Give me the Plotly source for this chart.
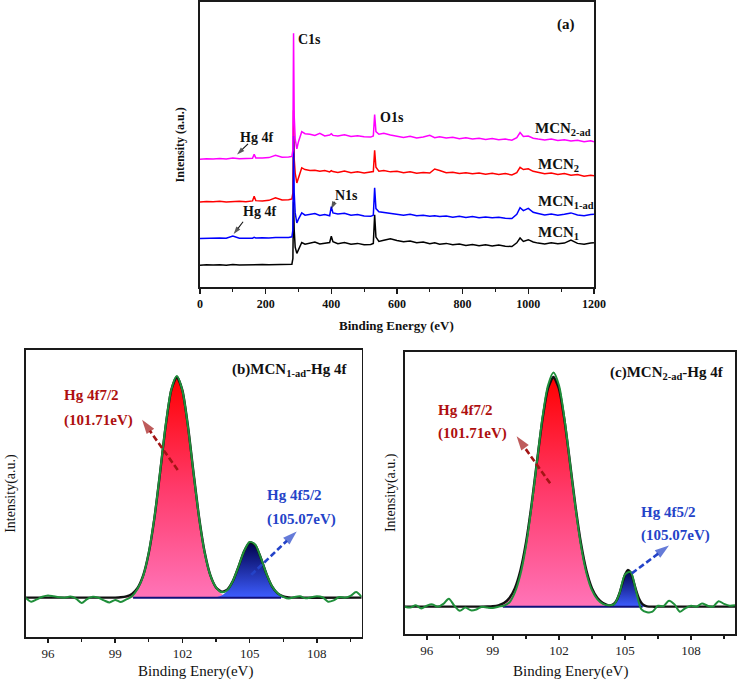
import plotly.graph_objects as go

W, H = 750, 681
SERIF = "Liberation Serif"

# ---------------- (a) XPS survey spectra ----------------
survey_x = [
    0, 20, 40, 60, 80, 100, 120, 140, 160, 165,
    170, 190, 210, 230, 250, 270, 280, 283, 285, 287,
    290, 295, 300, 310, 320, 335, 350, 365, 380, 395,
    400, 405, 420, 440, 460, 480, 500, 520, 528, 532,
    536, 545, 560, 580, 600, 620, 640, 660, 680, 700,
    715, 730, 750, 770, 790, 810, 830, 850, 870, 890,
    910, 930, 950, 965, 975, 985, 1000, 1015, 1030, 1050,
    1070, 1090, 1110, 1130, 1150, 1170, 1190, 1200]

mcn2ad = [
    44.8, 45.0, 44.9, 45.1, 44.9, 45.3, 45.0, 45.1, 45.2, 46.6,
    45.3, 45.3, 45.4, 46.2, 45.5, 45.6, 45.8, 48.0, 89.0, 60.0,
    52.0, 48.5, 51.0, 54.5, 53.8, 53.6, 53.2, 53.9, 53.0, 53.3,
    53.8, 53.2, 53.0, 53.4, 52.8, 53.1, 52.7, 52.6, 53.0, 60.5,
    54.5, 53.6, 53.9, 53.3, 53.0, 52.5, 52.9, 52.3, 52.6, 53.2,
    52.4, 52.7, 52.3, 52.5, 52.0, 52.4, 51.9, 52.2, 51.8, 52.1,
    51.7, 51.9, 51.5, 52.4, 54.2, 52.8, 53.0, 52.2, 51.9, 51.6,
    51.9, 51.4, 51.7, 51.2, 51.5, 51.0, 51.3, 51.0]

mcn2 = [
    29.8, 30.0, 29.9, 30.1, 29.8, 30.0, 30.1, 29.9, 30.2, 31.8,
    30.3, 30.2, 30.4, 31.3, 30.5, 30.6, 30.9, 33.0, 62.0, 45.0,
    40.0, 36.5, 38.5, 41.8, 41.2, 40.9, 41.0, 40.6, 40.9, 40.4,
    40.8, 40.5, 40.2, 40.7, 40.1, 40.4, 40.0, 40.2, 40.5, 48.0,
    42.0, 40.6, 40.9, 40.4, 40.6, 40.1, 40.4, 39.9, 40.2, 40.0,
    41.4, 40.9, 40.1, 40.3, 39.8, 40.1, 39.7, 40.0, 39.6, 39.9,
    39.5, 39.8, 39.3, 40.1, 42.0, 41.2, 41.5, 40.6, 40.3, 39.7,
    40.0, 39.5, 39.8, 39.2, 39.5, 38.9, 39.2, 39.0]

mcn1ad = [
    17.0, 17.1, 17.0, 17.2, 17.1, 17.9, 17.1, 17.2, 17.1, 17.4,
    17.2, 17.3, 17.2, 17.4, 17.3, 17.4, 17.6, 20.0, 53.0, 33.0,
    26.0, 22.5, 23.8, 26.0, 25.2, 25.5, 25.8, 25.1, 25.4, 25.0,
    28.2, 26.0, 25.6, 25.9, 25.2, 25.4, 24.9, 24.8, 25.2, 34.8,
    27.5, 26.4, 26.2, 25.9, 25.6, 25.2, 25.5, 25.0, 25.2, 24.8,
    25.0, 24.7, 24.9, 24.5, 24.8, 24.4, 24.7, 24.3, 24.6, 24.3,
    24.5, 24.1, 24.0, 25.5, 27.8, 26.8, 27.6, 26.2, 25.8, 25.3,
    25.6, 25.2, 25.5, 26.0, 25.3, 25.0, 25.4, 25.5]

mcn1 = [
    7.6, 7.8, 7.7, 7.8, 7.6, 7.9, 7.7, 7.8, 7.9, 7.8,
    7.7, 7.9, 7.8, 7.9, 7.8, 7.9, 8.0, 10.0, 30.0, 20.0,
    14.0, 11.8, 13.0, 15.6, 15.0, 15.4, 15.8, 15.1, 15.3, 15.6,
    17.8, 15.9, 15.2, 15.6, 15.0, 15.3, 14.8, 14.9, 15.3, 25.3,
    17.5, 16.0, 16.4, 16.9, 16.3, 15.9, 16.1, 15.5, 15.8, 15.2,
    15.5, 15.0, 15.3, 14.8, 15.1, 14.6, 14.9, 14.5, 14.8, 14.4,
    14.7, 14.3, 14.2, 15.5, 17.2, 16.0, 16.6, 15.8, 15.4, 15.1,
    15.5, 15.2, 15.4, 16.5, 15.3, 15.0, 15.4, 15.5]

survey_names = ["MCN1", "MCN2", "MCN1-ad", "MCN2-ad"]
survey_colors = ["#000000", "#ff0000", "#0000ff", "#ff00ff"]

# ---------------- (b)/(c) Hg 4f high-resolution ----------------
green_x = [
    95.0, 95.25, 95.5, 95.75, 96.0, 96.25, 96.5, 96.75, 97.0, 97.25,
    97.5, 97.75, 98.0, 98.25, 98.5, 98.75, 99.0, 99.25, 99.5, 99.75,
    100.0, 100.25, 100.5, 100.75, 101.0, 101.25, 101.5, 101.75, 102.0, 102.25,
    102.5, 102.75, 103.0, 103.25, 103.5, 103.75, 104.0, 104.25, 104.5, 104.75,
    105.0, 105.25, 105.5, 105.75, 106.0, 106.25, 106.5, 106.75, 107.0, 107.25,
    107.5, 107.75, 108.0, 108.25, 108.5, 108.75, 109.0, 109.25, 109.5, 109.75,
    110.0]

raw_b = [
    0.000, -0.018, -0.008, 0.004, 0.010, 0.006, 0.002, 0.000, 0.005, -0.004,
    -0.024, -0.006, 0.004, 0.000, -0.012, -0.022, -0.010, -0.020, -0.008, 0.006,
    0.040, 0.098, 0.205, 0.362, 0.566, 0.778, 0.940, 1.003, 0.937, 0.772,
    0.560, 0.358, 0.200, 0.100, 0.047, 0.025, 0.034, 0.075, 0.140, 0.210,
    0.252, 0.240, 0.180, 0.108, 0.052, 0.020, 0.004, -0.004, 0.003, 0.006,
    -0.003, 0.002, 0.006, 0.002, -0.018, -0.012, 0.003, 0.000, 0.008, 0.026,
    0.004]

raw_c = [
    0.000, -0.004, 0.006, -0.008, 0.004, 0.010, 0.000, 0.012, 0.035, 0.004,
    -0.018, -0.004, -0.016, -0.012, 0.000, -0.004, -0.006, 0.000, 0.004, 0.018,
    0.062, 0.140, 0.262, 0.432, 0.628, 0.822, 0.962, 1.020, 0.965, 0.820,
    0.628, 0.432, 0.266, 0.146, 0.072, 0.032, 0.012, 0.006, 0.010, 0.058,
    0.140, 0.152, 0.068, -0.012, -0.024, -0.022, 0.004, 0.002, 0.026, 0.010,
    -0.022, -0.006, 0.004, 0.000, 0.014, 0.004, 0.000, 0.024, 0.012, 0.004,
    0.006]

fit_x_b = [
    99.0, 99.25, 99.5, 99.75, 100.0, 100.25, 100.5, 100.75, 101.0, 101.25,
    101.5, 101.75, 102.0, 102.25, 102.5, 102.75, 103.0, 103.25, 103.5, 103.75,
    104.0, 104.25, 104.5, 104.75, 105.0, 105.25, 105.5, 105.75, 106.0, 106.25,
    106.5, 106.75, 107.0]
hg4f72_b = [
    0.0004, 0.0017, 0.0057, 0.0169, 0.0439, 0.1007, 0.203, 0.360, 0.563, 0.775,
    0.938, 1.000, 0.938, 0.775, 0.563, 0.360, 0.203, 0.1007, 0.0439, 0.0169,
    0.0057, 0.0017, 0.0004, 0, 0, 0, 0, 0, 0, 0,
    0, 0, 0]
hg4f52_b = [
    0, 0, 0, 0, 0, 0, 0, 0, 0, 0,
    0, 0, 0, 0, 0, 0, 0, 0, 0.0026, 0.0101,
    0.0305, 0.073, 0.1387, 0.2094, 0.2507, 0.2383, 0.1797, 0.1076, 0.0511, 0.0193,
    0.0058, 0.0014, 0]

fit_x_c = [
    98.5, 98.75, 99.0, 99.25, 99.5, 99.75, 100.0, 100.25, 100.5, 100.75,
    101.0, 101.25, 101.5, 101.75, 102.0, 102.25, 102.5, 102.75, 103.0, 103.25,
    103.5, 103.75, 104.0, 104.25, 104.375, 104.5, 104.625, 104.75, 104.875, 105.0,
    105.125, 105.25, 105.375, 105.5, 105.625, 105.75, 105.875, 106.0, 106.25, 106.5]
hg4f72_c = [
    0.0002, 0.0006, 0.0020, 0.0059, 0.0156, 0.0374, 0.0808, 0.1574, 0.277, 0.440,
    0.630, 0.814, 0.950, 1.000, 0.950, 0.814, 0.630, 0.440, 0.277, 0.1574,
    0.0808, 0.0374, 0.0156, 0.0059, 0.0035, 0.0020, 0.0011, 0.0006, 0.0003, 0,
    0, 0, 0, 0, 0, 0, 0, 0, 0, 0]
hg4f52_c = [
    0, 0, 0, 0, 0, 0, 0, 0, 0, 0,
    0, 0, 0, 0, 0, 0, 0, 0, 0, 0,
    0, 0, 0, 0, 0.0035, 0.0109, 0.0276, 0.0578, 0.0988, 0.1386,
    0.1594, 0.1501, 0.1159, 0.0733, 0.0380, 0.0162, 0.0056, 0.0016, 0, 0]

baseline_b = [99.8, 106.4]
baseline_c = [99.45, 105.8]
energy_span = [95.0, 110.0]

fig = go.Figure()

# survey traces
for name, ys, col in zip(survey_names, [mcn1, mcn2, mcn1ad, mcn2ad], survey_colors):
    fig.add_trace(go.Scatter(x=survey_x, y=ys, mode="lines", name=name,
                             line=dict(color=col, width=1.5),
                             xaxis="x", yaxis="y", showlegend=False, hoverinfo="skip"))


def hg_panel(xa, ya, fit_x, red, blue, raw, base):
    fig.add_trace(go.Scatter(
        x=fit_x, y=red, mode="lines", fill="tozeroy",
        line=dict(width=0, color="rgba(0,0,0,0)", shape="spline", smoothing=0.6),
        fillgradient=dict(type="vertical", colorscale=[[0, "#ff74b8"], [0.5, "#ff3a6a"], [1, "#ff0000"]],
                          start=0, stop=max(red)),
        xaxis=xa, yaxis=ya, showlegend=False, hoverinfo="skip"))
    fig.add_trace(go.Scatter(
        x=fit_x, y=blue, mode="lines", fill="tozeroy",
        line=dict(width=0, color="rgba(0,0,0,0)", shape="spline", smoothing=0.6),
        fillgradient=dict(type="vertical", colorscale=[[0, "#3d5dff"], [1, "#00004a"]],
                          start=0, stop=max(blue)),
        xaxis=xa, yaxis=ya, showlegend=False, hoverinfo="skip"))
    fig.add_trace(go.Scatter(x=base, y=[0, 0], mode="lines",
                             line=dict(color="#10107a", width=2),
                             xaxis=xa, yaxis=ya, showlegend=False, hoverinfo="skip"))
    env = [r + b for r, b in zip(red, blue)]
    fig.add_trace(go.Scatter(x=[energy_span[0]] + fit_x + [energy_span[1]],
                             y=[0.0] + env + [0.0], mode="lines",
                             line=dict(color="#111111", width=2.4, shape="spline", smoothing=0.6),
                             xaxis=xa, yaxis=ya, showlegend=False, hoverinfo="skip"))
    fig.add_trace(go.Scatter(x=green_x, y=raw, mode="lines",
                             line=dict(color="#1f8f3a", width=2, shape="spline", smoothing=0.8),
                             xaxis=xa, yaxis=ya, showlegend=False, hoverinfo="skip"))


hg_panel("x2", "y2", fit_x_b, hg4f72_b, hg4f52_b, raw_b, baseline_b)
hg_panel("x3", "y3", fit_x_c, hg4f72_c, hg4f52_c, raw_c, baseline_c)


def arrow(xa, ya, tail, head, color, width, dash, head_size):
    fig.add_trace(go.Scatter(
        x=[tail[0], head[0]], y=[tail[1], head[1]], mode="lines+markers",
        line=dict(color=color, width=width, dash=dash),
        marker=dict(symbol=["circle", "arrow"], size=[0, head_size], color=color,
                    angleref="previous", line=dict(width=0)),
        xaxis=xa, yaxis=ya, showlegend=False, hoverinfo="skip"))


# (a) small solid arrows (tail, head in data units of panel a)
arrow("x", "y", (146.3, 50.2), (113.0, 46.5), "#111", 1.1, "solid", 8)
arrow("x", "y", (131.3, 22.9), (102.5, 18.6), "#111", 1.1, "solid", 8)
arrow("x", "y", (409.9, 29.9), (399.5, 27.4), "#111", 1.1, "solid", 8)

# (b)/(c) dashed arrows
DRED = "#ae0f0f"
DBLUE = "#2443c8"
arrow("x2", "y2", (101.79, 0.578), (100.2, 0.805), "#a31515", 2.6, "6px,3px", 15)
arrow("x2", "y2", (105.07, 0.103), (107.1, 0.300), DBLUE, 2.6, "6px,3px", 15)
arrow("x3", "y3", (101.6, 0.537), (100.08, 0.742), "#a31515", 2.6, "6px,3px", 15)
arrow("x3", "y3", (105.31, 0.145), (107.0, 0.266), DBLUE, 2.6, "6px,3px", 15)

LINE = "#1a1a1a"
box = dict(showline=True, linecolor=LINE, linewidth=1.6, mirror=True,
           showgrid=False, zeroline=False)


def dom_x(a, b):
    return [a / W, b / W]


def dom_y(top, bottom):
    return [1 - bottom / H, 1 - top / H]


hg_xaxis = dict(range=[95, 110], tick0=96, dtick=3, ticks="outside", ticklen=4,
                tickwidth=1.4, tickcolor=LINE,
                minor=dict(tick0=96, dtick=1.5, ticks="outside", ticklen=3, tickwidth=1.2, tickcolor=LINE),
                tickfont=dict(family=SERIF, size=13, color="#222"), **box)

fig.update_layout(
    width=W, height=H, autosize=False, margin=dict(l=0, r=0, t=0, b=0),
    paper_bgcolor="white", plot_bgcolor="white",
    font=dict(family=SERIF, color="#111"),
    xaxis=dict(domain=dom_x(201, 603), range=[0, 1200], tick0=0, dtick=200,
               ticks="outside", ticklen=5, tickwidth=1.5, tickcolor=LINE,
               minor=dict(dtick=100, ticks="outside", ticklen=3, tickwidth=1.2, tickcolor=LINE),
               tickfont=dict(family=SERIF, size=12, color="#111", weight="bold"),
               anchor="y", **box),
    yaxis=dict(domain=dom_y(2, 287), range=[0, 100], showticklabels=False, ticks="",
               anchor="x", **box),
    xaxis2=dict(domain=dom_x(23, 366), anchor="y2", **hg_xaxis),
    yaxis2=dict(domain=dom_y(350, 637), range=[-0.178, 1.121], showticklabels=False,
                ticks="", anchor="x2", **box),
    xaxis3=dict(domain=dom_x(410, 747), anchor="y3", **hg_xaxis),
    yaxis3=dict(domain=dom_y(352, 634), range=[-0.119, 1.109], showticklabels=False,
                ticks="", anchor="x3", **box),
)


def P(xp, yp):
    return xp / W, 1 - yp / H


def label(text, xp, yp, size=14, bold=True, color="#111", xanchor="center", angle=0):
    x, y = P(xp, yp)
    fig.add_annotation(x=x, y=y, xref="paper", yref="paper", text=text, showarrow=False,
                       xanchor=xanchor, yanchor="middle", textangle=angle,
                       font=dict(family=SERIF, size=size, color=color,
                                 weight="bold" if bold else "normal"))


# (a) labels
label("(a)", 574, 24, size=15)
label("C1s", 299, 39, size=14, xanchor="left")
label("O1s", 383, 117, size=14, xanchor="left")
label("N1s", 337, 195, size=14, xanchor="left")
label("Hg 4f", 259, 137, size=14)
label("Hg 4f", 262, 212, size=14)
label("MCN<sub>2-ad</sub>", 541, 129, size=15, xanchor="left")
label("MCN<sub>2</sub>", 544, 165, size=15, xanchor="left")
label("MCN<sub>1-ad</sub>", 544, 202, size=15, xanchor="left")
label("MCN<sub>1</sub>", 544, 233, size=15, xanchor="left")
label("Binding Energy (eV)", 402, 326, size=13)
label("Intensity (a.u.)", 181, 145, size=12, angle=-90)

# (b)/(c) labels
label("(b)MCN<sub>1-ad</sub>-Hg 4f", 353, 370, size=15, xanchor="right")
label("Hg 4f7/2", 60, 395, size=15, color=DRED, xanchor="left")
label("(101.71eV)", 60, 420, size=15, color=DRED, xanchor="left")
label("Hg 4f5/2", 267, 495, size=15, color=DBLUE, xanchor="left")
label("(105.07eV)", 267, 519, size=15, color=DBLUE, xanchor="left")
label("Binding Enery(eV)", 196, 671, size=15, bold=False)
label("Intensity(a.u.)", 8, 493, size=14, bold=False, angle=-90)

label("(c)MCN<sub>2-ad</sub>-Hg 4f", 738, 373, size=15, xanchor="right")
label("Hg 4f7/2", 442, 410, size=15, color=DRED, xanchor="left")
label("(101.71eV)", 442, 434, size=15, color=DRED, xanchor="left")
label("Hg 4f5/2", 649, 512, size=15, color=DBLUE, xanchor="left")
label("(105.07eV)", 649, 535, size=15, color=DBLUE, xanchor="left")
label("Binding Enery(eV)", 579, 671, size=15, bold=False)
label("Intensity(a.u.)", 396, 493, size=14, bold=False, angle=-90)

fix_page = (
    "document.documentElement.style.margin='0';"
    "document.documentElement.style.padding='0';"
    "document.documentElement.style.overflow='hidden';"
    "document.body.style.margin='0';"
    "document.body.style.padding='0';"
    "document.body.style.overflow='hidden';"
    "var gd=document.getElementById('{plot_id}');"
    "gd.style.width='750px';gd.style.height='681px';"
    "return Plotly.relayout(gd,{width:750,height:681});"
)

fig.write_html(
    "out.html",
    config={"displayModeBar": False, "staticPlot": True, "responsive": False},
    post_script=fix_page,
)
